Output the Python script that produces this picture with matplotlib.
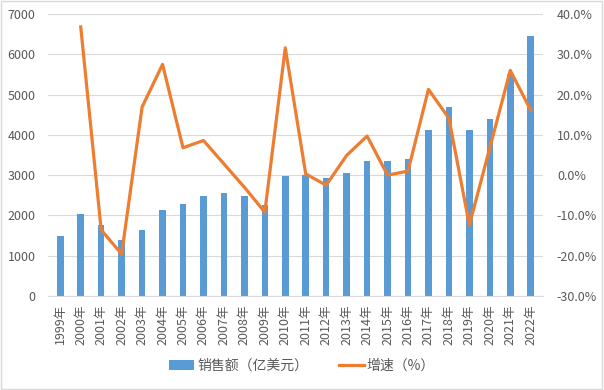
import numpy as np
import matplotlib.pyplot as plt
from matplotlib.ticker import FuncFormatter

plt.rcParams['font.family'] = ['Noto Sans CJK SC', 'DejaVu Sans']

years = [str(y) + '年' for y in range(1999, 2023)]
sales = [1480, 2030, 1760, 1400, 1650, 2130, 2280, 2480, 2560, 2480, 2250, 2980,
         3000, 2930, 3050, 3350, 3350, 3400, 4110, 4690, 4110, 4390, 5520, 6450]
growth = [None, 36.8, -13.6, -19.6, 16.9, 27.5, 6.8, 8.6, 2.8, -3.0, -9.2, 31.6,
          0.3, -2.5, 4.9, 9.7, 0.0, 1.0, 21.3, 14.1, -12.4, 6.8, 26.0, 16.1]

gray = '#595959'
fig = plt.figure(figsize=(6.04, 3.90), dpi=100)
ax = fig.add_axes([48 / 604, 1 - 296 / 390, 495 / 604, 282 / 390])
x = np.arange(len(years))
bars = ax.bar(x, sales, width=0.32, color='#5B9BD5', zorder=2)
ax.set_ylim(0, 7000)
ax.set_yticks(range(0, 7001, 1000))
ax.set_xlim(-0.6, len(years) - 0.4)
ax.set_xticks(x)
ax.set_xticklabels(years, rotation=90, fontsize=9, color=gray)
ax.grid(axis='y', color='#D9D9D9', linewidth=0.8, zorder=0)
for s in ['top', 'right', 'left']:
    ax.spines[s].set_visible(False)
ax.spines['bottom'].set_color('#D9D9D9')
ax.tick_params(axis='both', length=0, colors=gray, labelsize=9)
ax.tick_params(axis='y', pad=9)
ax.tick_params(axis='x', pad=6)

ax2 = ax.twinx()
g = np.array([np.nan if v is None else v for v in growth], dtype=float)
line, = ax2.plot(x, g, color='#ED7D31', linewidth=2.3, zorder=3)
ax2.set_ylim(-30, 40)
ax2.set_yticks(range(-30, 41, 10))
ax2.yaxis.set_major_formatter(FuncFormatter(lambda v, p: '%.1f%%' % v))
for s in ['top', 'right', 'left', 'bottom']:
    ax2.spines[s].set_visible(False)
ax2.tick_params(axis='y', length=0, colors=gray, labelsize=9, pad=10)

fig.legend([bars, line], ['销售额（亿美元）', '增速（%）'], loc='center',
           bbox_to_anchor=(0.5, 1 - 366 / 390), ncol=2, frameon=False,
           fontsize=10, labelcolor=gray, handlelength=1.8, handletextpad=0.2,
           columnspacing=2.2)

fig.patches.append(plt.Rectangle((0.002, 0.003), 0.995, 0.994, transform=fig.transFigure,
                                 fill=False, edgecolor='#D9D9D9', linewidth=1))
fig.savefig('out.png', dpi=100)
